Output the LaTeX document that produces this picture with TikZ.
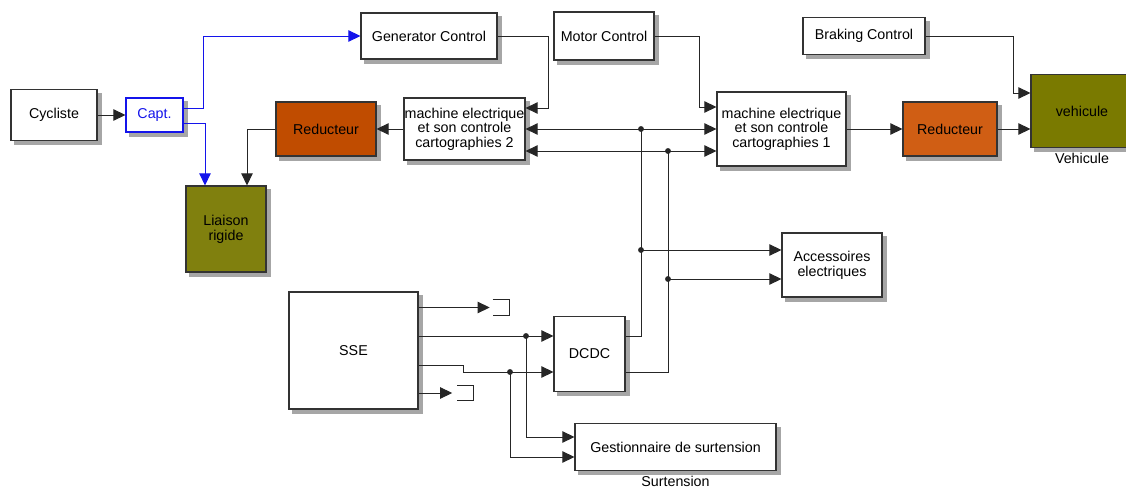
\documentclass[tikz,border=0pt]{standalone}
\usepackage{fontspec}
\setmainfont{Liberation Sans}
\usepackage{tikz}
\usetikzlibrary{arrows.meta,positioning,backgrounds}
\usepackage{xcolor}
\definecolor{reducdark}{RGB}{192,76,0}
\definecolor{reduclight}{RGB}{208,94,20}
\definecolor{olivebox}{RGB}{128,128,14}
\definecolor{olivecar}{RGB}{122,122,0}
\definecolor{captblue}{RGB}{20,20,235}

\begin{document}
\begin{tikzpicture}[x=0.75pt,y=-0.75pt,
	font=\fontsize{10.7}{11}\selectfont,
	>={Triangle[length=9pt,width=8.5pt]},
	block/.style={rectangle, draw=black!80, line width=0.8pt, fill=white, inner sep=0pt, align=center},
	wire/.style={draw=black!85, line width=0.7pt},
	term/.style={inner sep=0pt, minimum width=12pt, minimum height=11.25pt},
	caption/.style={inner sep=0pt}]
	
	\useasboundingbox (0,0) rectangle (1126,488);
	
	\node (cyc) [block, minimum width=64.5pt, minimum height=38.25pt] at (54,115) {Cycliste};
	\node (capt) [block, draw=captblue, text=captblue, minimum width=42.75pt, minimum height=25.5pt] at (154.5,115) {Capt.};
	\node (gen) [block, minimum width=102pt, minimum height=34.5pt] at (429,36) {Generator Control};
	\node (mot) [block, minimum width=75pt, minimum height=36pt] at (604,36) {Motor Control};
	\node (brk) [block, minimum width=91.5pt, minimum height=27.75pt] at (864,36) {Braking Control};
	\node (red2) [block, fill=reducdark, minimum width=75pt, minimum height=40.5pt] at (326,129) {Reducteur};
	\node (mach2) [block, minimum width=90.75pt, minimum height=46.5pt] at (464.5,129) {machine electrique\\et son controle\\cartographies 2};
	\node (mach1) [block, minimum width=96.75pt, minimum height=55.5pt] at (781.5,129) {machine electrique\\et son controle\\cartographies 1};
	\node (red1) [block, fill=reduclight, minimum width=70.5pt, minimum height=40.5pt] at (950,129) {Reducteur};
	\node (veh) [block, fill=olivecar, minimum width=76.5pt, minimum height=54.75pt] at (1082,111) {vehicule};
	\node (vehlbl) [caption, below=4pt of veh] {Vehicule};
	\node (lia) [block, fill=olivebox, minimum width=60pt, minimum height=64.5pt] at (226,229) {Liaison\\ rigide};
	\node (acc) [block, minimum width=75pt, minimum height=48pt] at (832,265) {Accessoires\\ electriques};
	\node (sse) [block, minimum width=96.75pt, minimum height=87.75pt] at (353.5,350.5) {SSE};
	\node (dcdc) [block, minimum width=53.25pt, minimum height=56.25pt] at (589.5,354) {DCDC};
	\node (gest) [block, minimum width=150.75pt, minimum height=35.25pt] at (675.5,447) {Gestionnaire de surtension};
	\node (surtlbl) [caption, below=4pt of gest] {Surtension};
	\node (t1) [term] at (501,307.5) {};
	\node (t2) [term] at (465.5,393) {};
	
	% block shadows
	\begin{pgfonlayer}{background}
		\foreach \b in {cyc,capt,gen,mot,brk,red2,mach2,mach1,red1,veh,lia,acc,sse,dcdc,gest}
			\fill [black!35] ([shift={(3pt,-3pt)}]\b.south west) rectangle ([shift={(3pt,-3pt)}]\b.north east);
	\end{pgfonlayer}
	
	% branch points
	\coordinate (j1) at (641,129);
	\coordinate (j2) at (668,151);
	\coordinate (j3) at (641,250);
	\coordinate (j4) at (668,279);
	\coordinate (d1) at (526,336);
	\coordinate (d2) at (510,372);
	
	\draw [wire,->] (cyc) -- (capt);
	\draw [wire,draw=captblue,->] ([yshift=5.25pt]capt.east) -- ++(15pt,0) |- (gen.west);
	\draw [wire,draw=captblue,->] ([yshift=-6pt]capt.east) -| ([xshift=-15.75pt]lia.north);
	\draw [wire,->] (red2.west) -| ([xshift=15.75pt]lia.north);
	\draw [wire,->] (mach2) -- (red2);
	\draw [wire,->] (gen.east) -- ++(38.25pt,0) |- ([yshift=15.75pt]mach2.east);
	\draw [wire,->] (mot.east) -- ++(33.75pt,0) |- ([yshift=16.5pt]mach1.west);
	\draw [wire,<->] (mach2.east) -- (mach1.west);
	\draw [wire,<->] ([yshift=-16.5pt]mach2.east) -- ([yshift=-16.5pt]mach1.west);
	\draw [wire,->] (mach1) -- (red1);
	\draw [wire,->] (red1.east) -- (red1.east -| veh.west);
	\draw [wire,->] (brk.east) -- ++(66pt,0) |- ([yshift=13.5pt]veh.west);
	
	\draw [wire] ([yshift=13.5pt]dcdc.east) -| (j1);
	\draw [wire] ([yshift=-13.5pt]dcdc.east) -| (j2);
	\draw [wire,->] (j3) -- (j3 -| acc.west);
	\draw [wire,->] (j4) -- (j4 -| acc.west);
	
	\draw [wire,->,shorten >=2.25pt] (sse.east |- t1) -- (t1.west);
	\draw [wire] (sse.east |- d1) -- (d1);
	\draw [wire] ([yshift=-10.875pt]sse.east) -- ++(33.75pt,0) |- (d2);
	\draw [wire,->,shorten >=3.75pt] (sse.east |- t2) -- (t2.west);
	\draw [wire,->] (d1) -- (d1 -| dcdc.west);
	\draw [wire,->] (d2) -- (d2 -| dcdc.west);
	\draw [wire,->] (d1) |- ([yshift=7.5pt]gest.west);
	\draw [wire,->] (d2) |- ([yshift=-7.5pt]gest.west);
	
	\foreach \t in {t1,t2}
		\draw [wire] (\t.north west) -| (\t.south east) -- (\t.south west);
	\foreach \j in {j1,j2,j3,j4,d1,d2}
		\fill [black!85] (\j) circle (2.2pt);
	
\end{tikzpicture}
\end{document}
